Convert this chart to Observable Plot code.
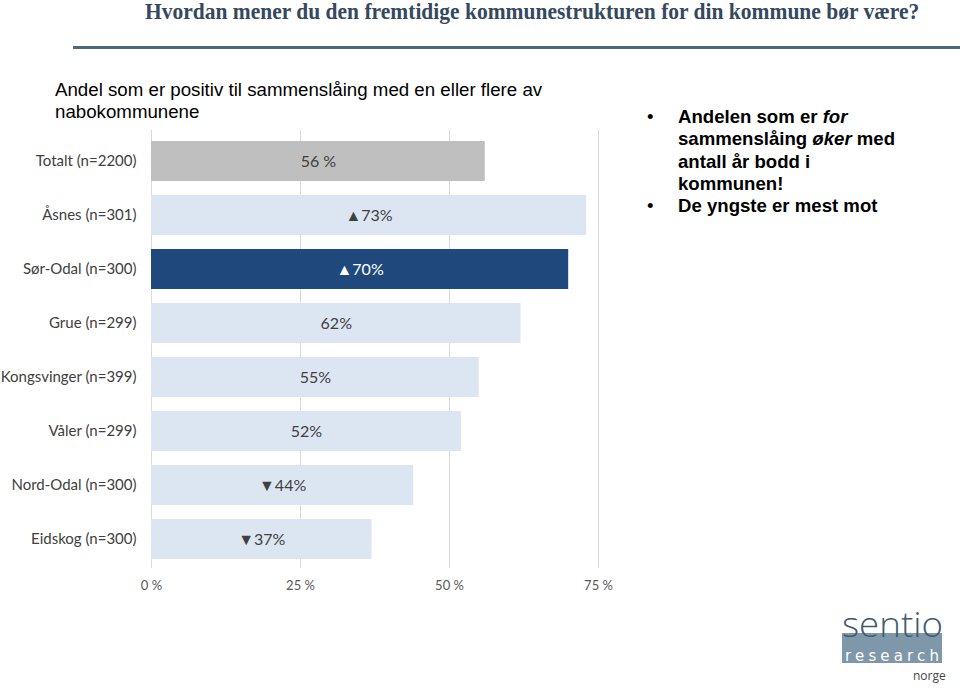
<!DOCTYPE html>
<html><head><meta charset="utf-8">
<script src="https://cdn.jsdelivr.net/npm/d3@7"></script>
<script src="https://cdn.jsdelivr.net/npm/@observablehq/plot@0.6"></script>
<style>
body{margin:0;width:960px;height:697px;position:relative;background:#fff;overflow:hidden;font-family:"Liberation Sans",Arial,sans-serif}
#title{position:absolute;left:145px;top:-1px;font-family:"Liberation Serif",serif;font-weight:bold;font-size:23px;color:#34495e;white-space:nowrap;transform-origin:0 0;transform:scaleX(0.935)}
#rule{position:absolute;left:73px;top:46px;width:887px;height:3px;background:#4d677f}
#sub{position:absolute;left:55px;top:79px;font-size:18.7px;line-height:22px;color:#000;width:600px}
#bul{position:absolute;left:644px;top:106px;font-size:18.6px;font-weight:bold;line-height:22.3px;color:#000}
#bul div{position:relative;padding-left:34px}
#bul div:before{content:"•";position:absolute;left:3px;font-weight:normal}
#chart{position:absolute;left:0;top:100px}
#logo{position:absolute;left:830px;top:600px}
</style></head><body>
<div id="title">Hvordan mener du den fremtidige kommunestrukturen for din kommune bør være?</div>
<div id="rule"></div>
<div id="sub">Andel som er positiv til sammenslåing med en eller flere av<br>nabokommunene</div>
<div id="bul"><div>Andelen som er <i>for</i><br>sammenslåing <i>øker</i> med<br>antall år bodd i<br>kommunen!</div><div>De yngste er mest mot</div></div>
<div id="chart"></div>
<svg id="logo" width="125" height="92" viewBox="0 0 125 92">
  <rect x="12" y="33" width="100" height="30" fill="#7e98aa"/>
  <text x="12" y="37" font-family="Open Sans, sans-serif" font-weight="300" font-size="34" fill="#3f5a6e" textLength="101" lengthAdjust="spacingAndGlyphs">sentio</text>
  <text x="15" y="61" font-family="DejaVu Sans, sans-serif" font-size="15" fill="#ffffff" textLength="94" lengthAdjust="spacing">research</text>
  <text x="83" y="80" font-family="Open Sans, sans-serif" font-size="12" fill="#444">norge</text>
</svg>
<script>
const categories = ["Totalt (n=2200)","Åsnes (n=301)","Sør-Odal (n=300)","Grue (n=299)","Kongsvinger (n=399)","Våler (n=299)","Nord-Odal (n=300)","Eidskog (n=300)"];
const values = [56,73,70,62,55,52,44,37];
const markers = ["","▲","▲","","","","▼","▼"];
const kinds = ["total","other","focus","other","other","other","other","other"];
const labels = ["56 %","▲73%","▲70%","62%","55%","52%","▼44%","▼37%"];
const xTicks = [0,25,50,75];

const data = categories.map((c,i)=>({cat:c, v:values[i], kind:kinds[i], label:labels[i]}));

const plot = Plot.plot({
  width: 640, height: 500,
  marginLeft: 151, marginRight: 42, marginTop: 25, marginBottom: 25,
  style: {fontFamily: "Lato, 'Open Sans', sans-serif", fontSize: "15px", color: "#404040", background: "transparent"},
  x: {domain: [0,75], ticks: xTicks, tickFormat: d => d + " %", label: null},
  y: {domain: categories, padding: 0.265, label: null},
  color: {domain: ["total","other","focus"], range: ["#bfbfbf","#dce6f2","#1f497d"]},
  marks: [
    Plot.ruleX(xTicks, {stroke: "#d9d9d9", strokeWidth: 1, insetTop: 5, insetBottom: 7}),
    Plot.barX(data, {x: "v", y: "cat", fill: "kind"}),
    Plot.text(data, {x: d => d.v/2, y: "cat", text: "label", fill: d => d.kind === "focus" ? "#ffffff" : "#404040", fontSize: 16}),
    Plot.axisX({ticks: xTicks, tickFormat: d => d + " %", tickSize: 0, tickPadding: 5, fontSize: 13, fill: "#595959", label: null}),
    Plot.axisY({tickSize: 0, tickPadding: 15, fontSize: 15, fill: "#404040", label: null})
  ]
});
document.getElementById("chart").appendChild(plot);
</script>
</body></html>
